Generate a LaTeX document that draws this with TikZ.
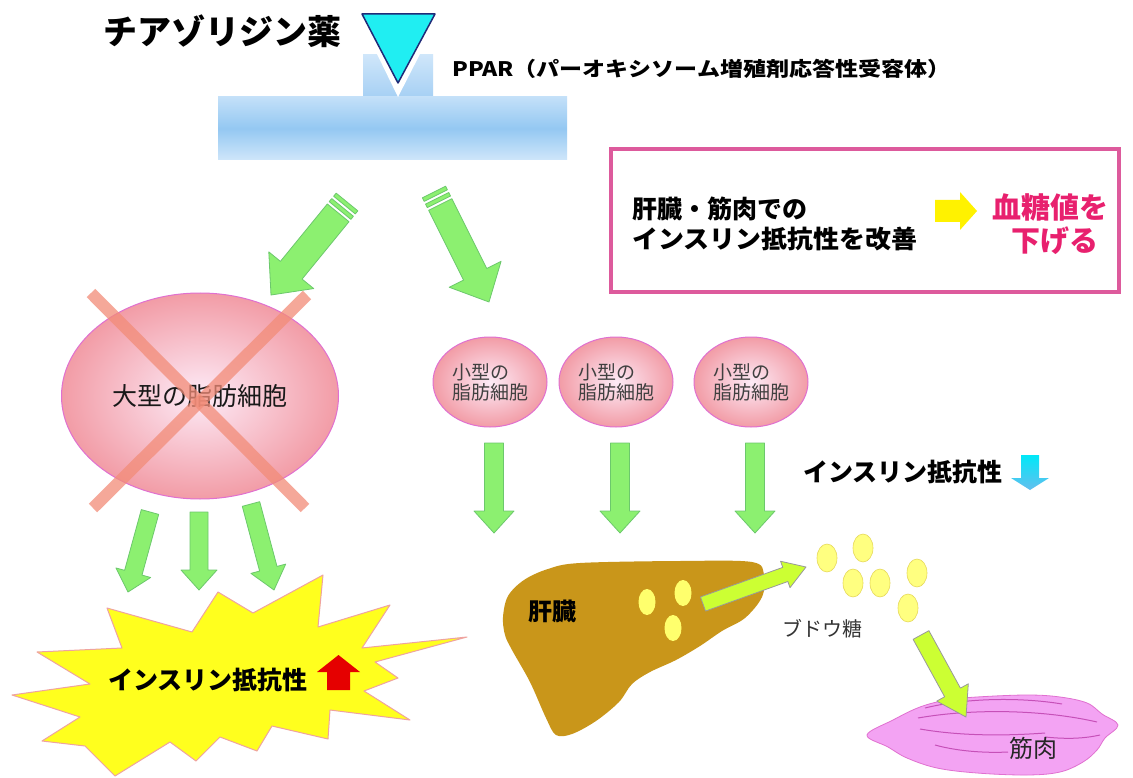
\documentclass[tikz,border=0pt]{standalone}
\usepackage{fontspec}
\usepackage{graphicx}
\usetikzlibrary{calc,shapes.geometric}
\newfontfamily\jp{Noto Sans CJK JP}

\definecolor{arrgreen}{HTML}{8CF070}
\definecolor{arrgreenline}{HTML}{6CC86C}
\definecolor{lime}{HTML}{CCFF33}
\definecolor{cellout}{HTML}{F29CA6}
\definecolor{cellin}{HTML}{FDEBF7}
\definecolor{cellline}{HTML}{E070D0}
\definecolor{liverc}{HTML}{C9961A}
\definecolor{musclec}{HTML}{F3A3F3}
\definecolor{muscleline}{HTML}{C650B8}
\definecolor{crossc}{HTML}{F28C78}
\definecolor{boxpink}{HTML}{DD5A9C}
\definecolor{redtext}{HTML}{E8206E}
\definecolor{burstc}{HTML}{FFFF1E}
\definecolor{burstline}{HTML}{EFA3A0}
\definecolor{drugc}{HTML}{20EEF2}
\definecolor{drugline}{HTML}{1F2A78}
\definecolor{dotc}{HTML}{FFFF80}
\definecolor{dotline}{HTML}{E6D85A}
\definecolor{rcplight}{HTML}{CFE6FA}
\definecolor{rcpmid}{HTML}{94C8F2}
\definecolor{rcpnotch}{HTML}{A6D0F4}

% block arrow from #2 to #3: half shaft width, half head width, head length
\newcommand\blockarr[6][]{%
  \coordinate (ba-h) at ($(#3)!#6!(#2)$);
  \path[#1] ($(#2)!#4!90:(#3)$) -- ($(ba-h)!#4!90:(#3)$) -- ($(ba-h)!#5!90:(#3)$) -- (#3)
    -- ($(ba-h)!#5!-90:(#3)$) -- ($(ba-h)!#4!-90:(#3)$) -- ($(#2)!#4!-90:(#3)$) -- cycle;
}
% striped block arrow: two thin bars at the tail, then the arrow
\newcommand\stripedarr[6][]{%
  \coordinate (sa-a) at ($(#2)!4pt!(#3)$);
  \coordinate (sa-b) at ($(#2)!7pt!(#3)$);
  \coordinate (sa-c) at ($(#2)!11pt!(#3)$);
  \coordinate (sa-d) at ($(#2)!14pt!(#3)$);
  \path[#1] ($(#2)!#4!90:(#3)$) -- ($(sa-a)!#4!90:(#3)$) -- ($(sa-a)!#4!-90:(#3)$) -- ($(#2)!#4!-90:(#3)$) -- cycle;
  \path[#1] ($(sa-b)!#4!90:(#3)$) -- ($(sa-c)!#4!90:(#3)$) -- ($(sa-c)!#4!-90:(#3)$) -- ($(sa-b)!#4!-90:(#3)$) -- cycle;
  \blockarr[#1]{sa-d}{#3}{#4}{#5}{#6}
}

\tikzset{
  lbl/.style={inner sep=0pt, font=\jp},
  greenarr/.style={fill=arrgreen, draw=arrgreenline, line width=0.8pt, line join=round},
  limearr/.style={fill=lime, draw=gray!80, line width=0.8pt, line join=round},
  cell/.style={ellipse, inner sep=0pt, draw=cellline, line width=1pt,
    inner color=cellin, outer color=cellout},
  dot/.style={fill=dotc, draw=dotline, line width=0.6pt},
}

\begin{document}
\begin{tikzpicture}[x=1pt,y=-1pt]
\useasboundingbox (0,0) rectangle (1133,778);
\fill[white] (0,0) rectangle (1133,778);

% ---- drug and receptor ----
\node[lbl, font=\jp\bfseries\fontsize{34}{40}\selectfont] (title) at (222,31) {チアゾリジン薬};
\path[top color=rcplight, bottom color=rcpnotch] (363,55) rectangle (433,97);
\path[top color=rcplight!80!rcpmid, bottom color=rcplight, middle color=rcpmid] (218,97) rectangle (567,160);
\fill[white] (377,54) -- (420,54) -- (398,97) -- cycle;
\draw[fill=drugc, draw=drugline, line width=1.5pt, line join=round]
  (362,14) -- (435,14) -- (398,83) -- cycle;
\node[lbl, font=\jp\bfseries\fontsize{20}{24}\selectfont, anchor=west] (ppar) at (452,69)
  {\resizebox{498pt}{\height}{PPAR（パーオキシソーム増殖剤応答性受容体）}};

% ---- summary box ----
\draw[boxpink, line width=3.5pt] (611,149) rectangle (1119,292);
\node[lbl, font=\jp\bfseries\fontsize{25}{30}\selectfont, anchor=west] (box1) at (632,209) {肝臓・筋肉での};
\node[lbl, font=\jp\bfseries\fontsize{25}{30}\selectfont, anchor=west] (box2) at (632,239) {\resizebox{285pt}{\height}{インスリン抵抗性を改善}};
\fill[yellow] (935,200) -- (960,200) -- (960,192) -- (977,211) -- (960,230) -- (960,222) -- (935,222) -- cycle;
\node[lbl, font=\jp\bfseries\fontsize{29}{34}\selectfont, text=redtext] (res1) at (1050,207) {血糖値を};
\node[lbl, font=\jp\bfseries\fontsize{29}{34}\selectfont, text=redtext] (res2) at (1055,241) {下げる};

% ---- arrows from receptor ----
\coordinate (gL1) at (347,202); \coordinate (gL2) at (271,295);
\coordinate (gR1) at (434,192); \coordinate (gR2) at (489,302);
\stripedarr[greenarr]{gL1}{gL2}{14pt}{29pt}{32pt}
\stripedarr[greenarr]{gR1}{gR2}{13pt}{29pt}{31pt}

% ---- large fat cell ----
\node[cell, minimum width=277pt, minimum height=206pt, font=\jp\fontsize{25}{30}\selectfont, text=black!90] (big) at (200,396) {大型の脂肪細胞};
\draw[crossc, opacity=0.75, line width=12pt] (91,293) -- (305,508);
\draw[crossc, opacity=0.75, line width=12pt] (307,295) -- (93,508);

% ---- small fat cells ----
\foreach \n/\x in {1/490,2/616,3/751}{
  \node[cell, minimum width=114pt, minimum height=90pt, align=left,
    font=\jp\fontsize{19}{20}\selectfont, text=black!75] (small\n) at (\x,382) {小型の\\脂肪細胞};
  \coordinate (sv\n a) at (\x+4,443);
  \coordinate (sv\n b) at (\x+4,533);
  \blockarr[greenarr]{sv\n a}{sv\n b}{9.5pt}{20pt}{22pt}
}

% ---- burst: insulin resistance up ----
\draw[fill=burstc, draw=burstline, line width=1pt, line join=round]
  (107,608) -- (192,632) -- (218,592) -- (253,613) -- (323,575) -- (318,627) -- (390,605)
  -- (362,648) -- (467,637) -- (375,662) -- (398,678) -- (364,691) -- (410,720) -- (330,710)
  -- (328,739) -- (272,726) -- (257,751) -- (220,737) -- (196,761) -- (170,742) -- (115,776)
  -- (85,746) -- (42,741) -- (80,717) -- (12,695) -- (90,684) -- (37,652) -- (122,648) -- cycle;
\node[lbl, font=\jp\bfseries\fontsize{25}{30}\selectfont] (irup) at (208,680) {インスリン抵抗性};
\fill[red!90!black] (338.5,655) -- (360,672) -- (350,672) -- (350,690) -- (327,690) -- (327,672) -- (317,672) -- cycle;

% arrows from large cell to the burst
\coordinate (bl1) at (150,512); \coordinate (bl2) at (128,592);
\coordinate (bm1) at (199,512); \coordinate (bm2) at (199,590);
\coordinate (br1) at (251,504); \coordinate (br2) at (274,590);
\blockarr[greenarr]{bl1}{bl2}{9pt}{18pt}{20pt}
\blockarr[greenarr]{bm1}{bm2}{9pt}{18pt}{20pt}
\blockarr[greenarr]{br1}{br2}{9pt}{18pt}{22pt}

% ---- insulin resistance down ----
\node[lbl, font=\jp\bfseries\fontsize{25}{30}\selectfont] (irdown) at (903,472) {インスリン抵抗性};
\path[top color={rgb,255:red,0;green,232;blue,248}, bottom color={rgb,255:red,100;green,190;blue,238}]
  (1021,455) -- (1039,455) -- (1039,478) -- (1049,478) -- (1030,490) -- (1011,478) -- (1021,478) -- cycle;

% ---- liver ----
\fill[liverc] plot[smooth cycle, tension=0.55] coordinates {
  (503,617) (508,596) (524,580) (548,569) (580,563) (680,561) (752,562) (764,575)
  (762,597) (745,618) (722,631) (700,646) (676,660) (650,672) (632,684) (619,702)
  (596,721) (572,734) (556,735) (546,718) (530,682) (512,650) (505,635)};
\node[lbl, font=\jp\bfseries\fontsize{24}{28}\selectfont] (liver) at (552,611) {肝臓};
\fill[dotc!85!yellow] (647,602) ellipse [x radius=8.5, y radius=13];
\fill[dotc!85!yellow] (683,593) ellipse [x radius=8.5, y radius=13];
\fill[dotc!85!yellow] (673,628) ellipse [x radius=8.5, y radius=13];
\coordinate (lv1) at (703,604); \coordinate (lv2) at (806,567);
\blockarr[limearr]{lv1}{lv2}{7.5pt}{14pt}{22pt}

% ---- glucose ----
\foreach \gx/\gy in {827/558, 863/548, 853/583, 880/583, 917/573, 908/608}
  \draw[dot] (\gx,\gy) ellipse [x radius=10, y radius=14];
\node[lbl, font=\jp\fontsize{20}{24}\selectfont, text=black!80] (glucose) at (822,629) {ブドウ糖};
\coordinate (gm1) at (921,635); \coordinate (gm2) at (966,717);

% ---- muscle ----
\draw[fill=musclec, draw=cellline, line width=0.8pt] plot[smooth cycle, tension=0.6] coordinates {
  (867,735) (893,720) (920,707) (947,700) (977,697) (1027,695) (1060,697) (1087,703)
  (1102,714) (1118,725) (1105,738) (1097,750) (1083,762) (1060,772) (1027,775)
  (977,773) (937,768) (907,758) (888,747)};
\draw[muscleline, line width=1pt]
  (925,708) .. controls (965,698) and (1020,697) .. (1062,704)
  (918,718) .. controls (975,708) and (1045,710) .. (1097,722)
  (920,729) .. controls (960,736) and (1005,736) .. (1045,733)
  (935,745) .. controls (960,752) and (990,753) .. (1008,752)
  (1045,737) .. controls (1065,739) and (1082,739) .. (1100,735);
\node[lbl, font=\jp\fontsize{24}{28}\selectfont, text=black!85] (muscle) at (1033,748) {筋肉};
\blockarr[limearr]{gm1}{gm2}{9pt}{18pt}{28pt}

\end{tikzpicture}
\end{document}
